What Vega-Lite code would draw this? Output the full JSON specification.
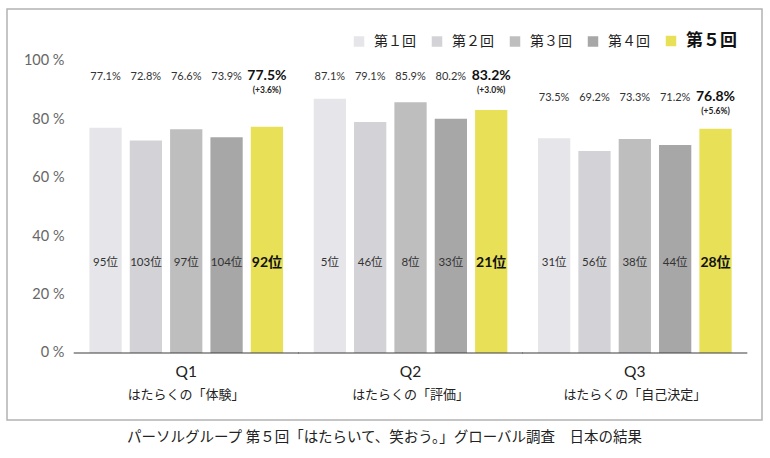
{
  "$schema": "https://vega.github.io/schema/vega-lite/v6.json",
  "autosize": "none",
  "width": 755,
  "height": 411,
  "padding": {"left": 7, "top": 9, "right": 8, "bottom": 38},
  "background": "white",
  "config": {
    "font": "Lato, Noto Sans CJK JP",
    "view": {"stroke": "#b3b3b3", "strokeWidth": 1.5},
    "axis": {"grid": false}
  },
  "title": {
    "text": "パーソルグループ  第５回「はたらいて、笑おう。」グローバル調査　日本の結果",
    "orient": "bottom",
    "offset": 11,
    "fontSize": 14.5,
    "fontWeight": "normal",
    "color": "#222"
  },
  "datasets": {
    "scores": [
      {"q": "Q1", "round": "第１回", "value": 77.1, "rank": "95位"},
      {"q": "Q1", "round": "第２回", "value": 72.8, "rank": "103位"},
      {"q": "Q1", "round": "第３回", "value": 76.6, "rank": "97位"},
      {"q": "Q1", "round": "第４回", "value": 73.9, "rank": "104位"},
      {"q": "Q1", "round": "第５回", "value": 77.5, "rank": "92位", "delta": "(+3.6%)"},
      {"q": "Q2", "round": "第１回", "value": 87.1, "rank": "5位"},
      {"q": "Q2", "round": "第２回", "value": 79.1, "rank": "46位"},
      {"q": "Q2", "round": "第３回", "value": 85.9, "rank": "8位"},
      {"q": "Q2", "round": "第４回", "value": 80.2, "rank": "33位"},
      {"q": "Q2", "round": "第５回", "value": 83.2, "rank": "21位", "delta": "(+3.0%)"},
      {"q": "Q3", "round": "第１回", "value": 73.5, "rank": "31位"},
      {"q": "Q3", "round": "第２回", "value": 69.2, "rank": "56位"},
      {"q": "Q3", "round": "第３回", "value": 73.3, "rank": "38位"},
      {"q": "Q3", "round": "第４回", "value": 71.2, "rank": "44位"},
      {"q": "Q3", "round": "第５回", "value": 76.8, "rank": "28位", "delta": "(+5.6%)"}
    ],
    "groups": [
      {"q": "Q1", "sub": "はたらくの「体験」", "labelAt": 94.5},
      {"q": "Q2", "sub": "はたらくの「評価」", "labelAt": 94.5},
      {"q": "Q3", "sub": "はたらくの「自己決定」", "labelAt": 87.3}
    ]
  },
  "data": {"name": "scores"},
  "transform": [
    {"lookup": "q", "from": {"data": {"name": "groups"}, "key": "q", "fields": ["labelAt"]}},
    {"calculate": "format(datum.value, '.1f') + '%'", "as": "pct"}
  ],
  "encoding": {
    "x": {
      "field": "q",
      "type": "nominal",
      "axis": null,
      "scale": {"domain": ["Q1", "Q2", "Q3"], "paddingInner": 0, "paddingOuter": 0.183, "align": 0.817}
    },
    "xOffset": {
      "field": "round",
      "type": "nominal",
      "scale": {"domain": ["第１回", "第２回", "第３回", "第４回", "第５回"], "paddingInner": 0.2, "paddingOuter": 0.38}
    }
  },
  "layer": [
    {
      "mark": {"type": "bar"},
      "encoding": {
        "y": {
          "field": "value",
          "type": "quantitative",
          "scale": {"domain": [-22.95, 117.8], "nice": false, "zero": false},
          "axis": {
            "orient": "left",
            "offset": -63,
            "values": [0, 20, 40, 60, 80, 100],
            "labelExpr": "datum.value + ' %'",
            "domain": false,
            "ticks": false,
            "labelPadding": 6,
            "labelFontSize": 14.5,
            "labelColor": "#666",
            "title": null
          }
        },
        "y2": {"datum": 0},
        "color": {
          "field": "round",
          "type": "nominal",
          "scale": {
            "domain": ["第１回", "第２回", "第３回", "第４回", "第５回"],
            "range": ["#e6e6ea", "#d3d3d7", "#bebebe", "#a7a7a7", "#e8e057"]
          },
          "legend": {
            "title": null,
            "orient": "none",
            "direction": "horizontal",
            "legendX": 345,
            "legendY": 25,
            "symbolType": "square",
            "symbolSize": 110,
            "symbolStrokeWidth": 0,
            "labelOffset": 8,
            "columnPadding": 14,
            "labelFontSize": 14,
            "labelColor": "#222",
            "encode": {
              "labels": {
                "update": {
                  "fontWeight": {"signal": "datum.label === '第５回' ? 'bold' : 'normal'"},
                  "fontSize": {"signal": "datum.label === '第５回' ? 17 : 14"},
                  "fill": {"signal": "datum.label === '第５回' ? '#111' : '#222'"}
                }
              }
            }
          }
        }
      }
    },
    {
      "transform": [{"filter": "datum.round !== '第５回'"}],
      "mark": {"type": "text", "fontSize": 11, "color": "#333", "baseline": "middle"},
      "encoding": {
        "y": {"field": "labelAt", "type": "quantitative"},
        "text": {"field": "pct"}
      }
    },
    {
      "transform": [{"filter": "datum.round === '第５回'"}],
      "mark": {"type": "text", "fontSize": 14, "fontWeight": "bold", "color": "#111", "baseline": "middle", "dy": -1},
      "encoding": {
        "y": {"field": "labelAt", "type": "quantitative"},
        "text": {"field": "pct"}
      }
    },
    {
      "transform": [{"filter": "datum.round === '第５回'"}],
      "mark": {"type": "text", "fontSize": 8.5, "fontWeight": "bold", "color": "#222", "baseline": "middle", "dy": 12.5, "letterSpacing": 0.6},
      "encoding": {
        "y": {"field": "labelAt", "type": "quantitative"},
        "text": {"field": "delta"}
      }
    },
    {
      "transform": [{"filter": "datum.round !== '第５回'"}],
      "mark": {"type": "text", "fontSize": 11.5, "color": "#333", "baseline": "middle"},
      "encoding": {
        "y": {"datum": 30.8},
        "text": {"field": "rank"}
      }
    },
    {
      "transform": [{"filter": "datum.round === '第５回'"}],
      "mark": {"type": "text", "fontSize": 14, "fontWeight": "bold", "color": "#111", "baseline": "middle"},
      "encoding": {
        "y": {"datum": 30.8},
        "text": {"field": "rank"}
      }
    },
    {
      "data": {"name": "groups"},
      "mark": {"type": "tick", "size": 225, "thickness": 1.5, "color": "#444"},
      "encoding": {
        "xOffset": null,
        "y": {"datum": 0}
      }
    },
    {
      "data": {"name": "groups"},
      "mark": {"type": "text", "fontSize": 15.5, "color": "#222", "baseline": "middle"},
      "encoding": {
        "xOffset": null,
        "y": {"datum": -6.5},
        "text": {"field": "q"}
      }
    },
    {
      "data": {"name": "groups"},
      "mark": {"type": "text", "fontSize": 13, "color": "#222", "baseline": "middle"},
      "encoding": {
        "xOffset": null,
        "y": {"datum": -14.4},
        "text": {"field": "sub"}
      }
    }
  ]
}
